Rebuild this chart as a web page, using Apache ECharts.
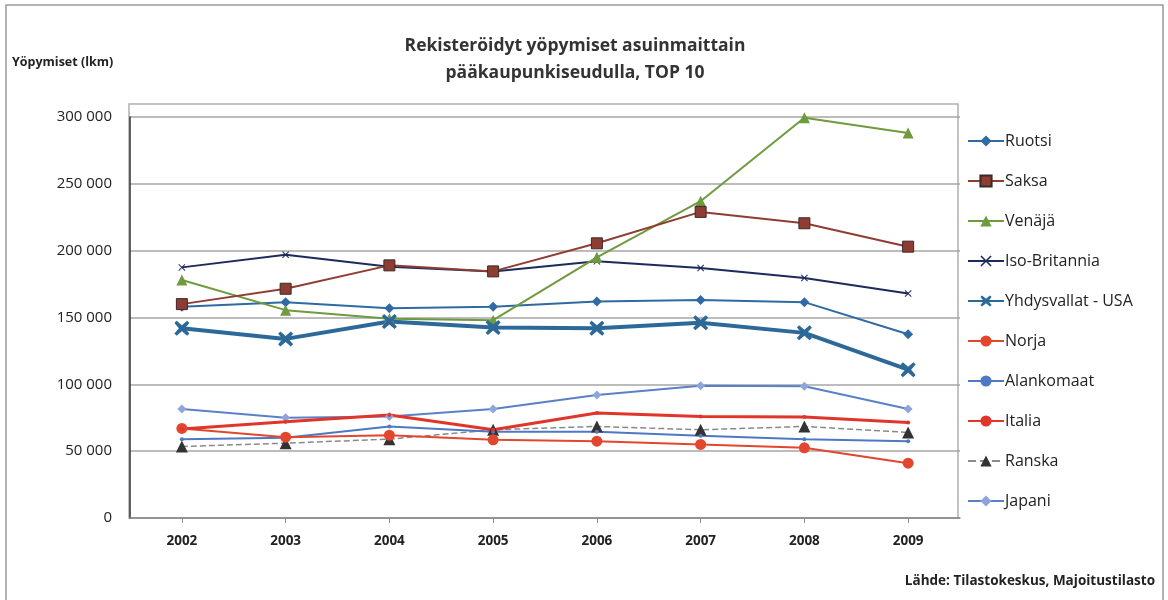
<!DOCTYPE html>
<html><head><meta charset="utf-8">
<script src="https://cdn.jsdelivr.net/npm/echarts@6/dist/echarts.min.js"></script>
<style>html,body{margin:0;padding:0;background:#fff}#c{width:1168px;height:600px}</style>
</head><body><div id="c"></div>
<script>
var years = ['2002','2003','2004','2005','2006','2007','2008','2009'];
var ruotsi = [158000, 161500, 157000, 158000, 162000, 163000, 161500, 137500];
var saksa = [160000, 171500, 189000, 184500, 205500, 229000, 220500, 203000];
var venaja = [178000, 155500, 149000, 148000, 195000, 237000, 299500, 288000];
var isoBritannia = [187500, 197000, 188000, 184500, 192000, 187000, 179500, 168000];
var usa = [142000, 134000, 147000, 142500, 142000, 146000, 138500, 111000];
var norja = [67000, 60500, 62000, 58500, 57500, 55000, 52500, 41000];
var alankomaat = [59000, 60000, 68500, 64500, 64500, 61500, 59000, 57500];
var italia = [66500, 72000, 77000, 66000, 78500, 76000, 75500, 71500];
var ranska = [53500, 56000, 59000, 66000, 68500, 66000, 68500, 64000];
var japani = [81500, 75000, 76000, 81500, 92000, 99000, 98500, 81500];
var yTicks = [0, 50000, 100000, 150000, 200000, 250000, 300000];

var FONT = '"Open Sans", Lato, sans-serif';
var xPath = 'path://M2,0 L10,8 L18,0 L20,2 L12,10 L20,18 L18,20 L10,12 L2,20 L0,18 L8,10 L0,2 Z';
var starX = 'path://M3,0 L10,6 L17,0 L20,3 L14,10 L20,17 L17,20 L10,14 L3,20 L0,17 L6,10 L0,3 Z';

function fmt(v){ return String(v).replace(/\B(?=(\d{3})+(?!\d))/g, ' '); }

function s(name, data, color, opt){
  var o = {
    name: name, type: 'line', data: data, color: color,
    lineStyle: {color: color, width: 2},
    itemStyle: {color: color},
    symbol: 'circle', symbolSize: 8, showSymbol: true, animation: false
  };
  for (var k in opt) o[k] = opt[k];
  return o;
}

var chart = echarts.init(document.getElementById('c'));
chart.setOption({
  backgroundColor: '#ffffff',
  animation: false,
  textStyle: {fontFamily: FONT},
  title: {
    text: 'Rekisteröidyt yöpymiset asuinmaittain\npääkaupunkiseudulla, TOP 10',
    left: 570, top: 28, textAlign: 'center',
    textStyle: {fontFamily: FONT, fontSize: 17.5, fontWeight: 'bold', color: '#333', lineHeight: 27}
  },
  legend: {
    orient: 'vertical', left: 962, top: 128,
    itemWidth: 36, itemHeight: 14, itemGap: 24,
    textStyle: {fontFamily: FONT, fontSize: 16, color: '#222', padding: [0,0,0,-4]},
    data: ['Ruotsi','Saksa','Venäjä','Iso-Britannia','Yhdysvallat - USA','Norja','Alankomaat','Italia','Ranska','Japani']
  },
  grid: {left: 130, right: 208, top: 117, bottom: 82, containLabel: false},
  xAxis: {
    type: 'category', data: years, boundaryGap: true,
    axisLine: {lineStyle: {color: '#8c8c8c', width: 1.5}},
    axisTick: {show: true, alignWithLabel: true, length: 5, lineStyle: {color: '#8c8c8c'}},
    axisLabel: {fontFamily: FONT, fontSize: 13.5, fontWeight: 'bold', color: '#222', margin: 16}
  },
  yAxis: {
    type: 'value', min: 0, max: 300000, interval: 50000,
    name: 'Yöpymiset (lkm)', nameLocation: 'end', nameGap: 0,
    nameTextStyle: {fontFamily: FONT, fontSize: 12.5, fontWeight: 'bold', color: '#222', align: 'left', padding: [0,0,48,-118]},
    axisLine: {show: true, lineStyle: {color: '#333', width: 1.5}},
    axisTick: {show: false},
    splitLine: {lineStyle: {color: '#a6a6a6', width: 1.5}},
    axisLabel: {fontFamily: FONT, fontSize: 15, color: '#222', margin: 18, formatter: function(v){ return fmt(v); }}
  },
  graphic: [
    {type: 'rect', shape: {x: 6, y: 5, width: 1157, height: 610}, style: {fill: 'none', stroke: '#9a9a9a', lineWidth: 1.5}, silent: true},
    {type: 'rect', shape: {x: 129, y: 104, width: 829, height: 414}, style: {fill: 'none', stroke: '#b0b0b0', lineWidth: 1.5}, silent: true, z: -1},
    {type: 'text', right: 13, top: 574, style: {text: 'Lähde: Tilastokeskus, Majoitustilasto', fontFamily: FONT, fontSize: 13.5, fontWeight: 'bold', fill: '#222'}}
  ],
  series: [
    s('Ranska', ranska, '#333333', {symbol: 'triangle', symbolSize: 12, lineStyle: {color: '#8a8a8a', width: 1.5, type: 'dashed'}, itemStyle: {color: '#333333'}}),
    s('Alankomaat', alankomaat, '#4f78c4', {symbol: 'circle', symbolSize: 4}),
    s('Japani', japani, '#5a80c8', {symbol: 'diamond', symbolSize: 9, itemStyle: {color: '#8ea5dc'}}),
    s('Norja', norja, '#e2472e', {symbol: 'circle', symbolSize: 11}),
    s('Italia', italia, '#e0352a', {symbol: 'circle', symbolSize: 4, lineStyle: {color: '#e0352a', width: 3}}),
    s('Ruotsi', ruotsi, '#2f6aa3', {symbol: 'diamond', symbolSize: 10}),
    s('Iso-Britannia', isoBritannia, '#1d2b5c', {symbol: xPath, symbolSize: 7}),
    s('Venäjä', venaja, '#6f9a3e', {symbol: 'triangle', symbolSize: 11}),
    s('Saksa', saksa, '#8f3d32', {symbol: 'rect', symbolSize: 11, itemStyle: {color: '#8f3d32', borderColor: '#3a2a2a', borderWidth: 1}}),
    s('Yhdysvallat - USA', usa, '#2c6999', {symbol: starX, symbolSize: 15, lineStyle: {color: '#2c6999', width: 4}})
  ]
});
</script></body></html>
